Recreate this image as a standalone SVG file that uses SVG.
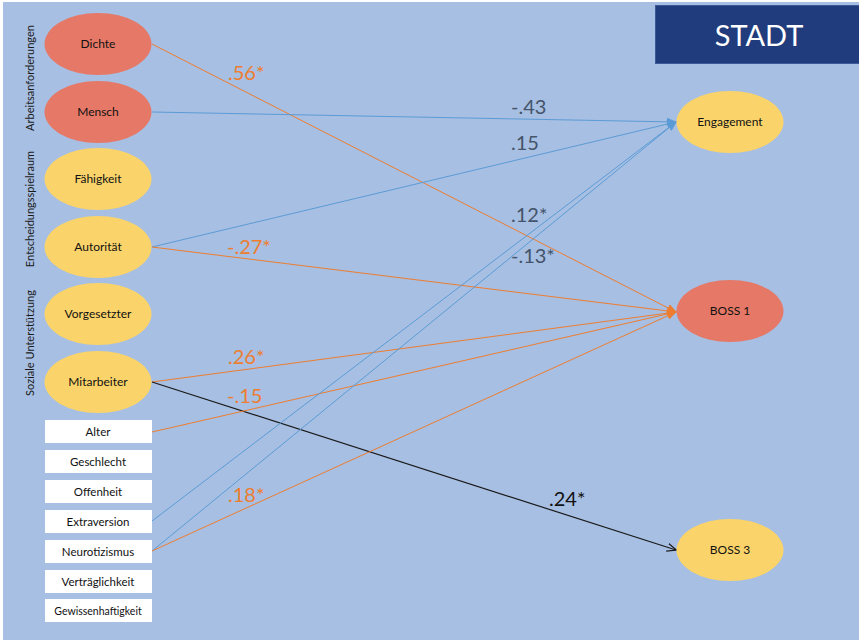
<svg xmlns="http://www.w3.org/2000/svg" width="859" height="640" viewBox="0 0 859 640">
<defs>
<style>
.bg{fill:#A7BFE2}
.red{fill:#E57866}
.yel{fill:#FAD46A}
.box{fill:#FFFFFF}
.lbl{font-family:Lato,"Liberation Sans",sans-serif;font-size:11.5px;fill:#111111;text-anchor:middle}
.el{font-size:12px}
.grp{font-family:Lato,"Liberation Sans",sans-serif;font-size:11px;fill:#1A1A1A;text-anchor:middle}
.num{font-family:Lato,"Liberation Sans",sans-serif;font-size:20px}
.o{fill:#ED7D31}
.g{fill:#44546A}
.k{fill:#111111}
.lb{stroke:#5B9BD5;stroke-width:1;fill:none;marker-end:url(#ab)}
.lo{stroke:#ED7D31;stroke-width:1;fill:none;marker-end:url(#ao)}
.lk{stroke:#1A1A1A;stroke-width:1.2;fill:none;marker-end:url(#ak)}
</style>
<marker id="ab" markerWidth="10" markerHeight="10" refX="9" refY="5" orient="auto" markerUnits="userSpaceOnUse" viewBox="0 0 10 10"><path d="M0,1 L10,5 L0,9 z" fill="#5B9BD5"/></marker>
<marker id="ao" markerWidth="10" markerHeight="10" refX="9" refY="5" orient="auto" markerUnits="userSpaceOnUse" viewBox="0 0 10 10"><path d="M0,1 L10,5 L0,9 z" fill="#ED7D31"/></marker>
<marker id="ak" markerWidth="10" markerHeight="10" refX="9" refY="5" orient="auto" markerUnits="userSpaceOnUse" viewBox="0 0 10 10"><path d="M0,1 L9.5,5 L0,9" fill="none" stroke="#1A1A1A" stroke-width="1.2"/></marker>
</defs>
<rect x="0" y="0" width="859" height="640" fill="#FFFFFF"/>
<rect x="3" y="2" width="856" height="638" class="bg"/>

<g id="stadt">
<rect x="655.5" y="5.5" width="210" height="58" fill="#203C7C" stroke="#3C5A96" stroke-width="1"/>
<text x="759" y="46" font-family="Lato,'Liberation Sans',sans-serif" font-size="29" fill="#FFFFFF" text-anchor="middle">STADT</text>
</g>

<g id="group-labels">
<text class="grp" transform="translate(34,78) rotate(-90)">Arbeitsanforderungen</text>
<text class="grp" transform="translate(34,209) rotate(-90)">Entscheidungsspielraum</text>
<text class="grp" transform="translate(34,343) rotate(-90)">Soziale Unterstützung</text>
</g>

<g id="connectors">
<line class="lo" x1="152" y1="44" x2="676" y2="312"/>
<line class="lb" x1="152" y1="112" x2="676" y2="122"/>
<line class="lb" x1="152" y1="247" x2="676" y2="122"/>
<line class="lo" x1="152" y1="247" x2="676" y2="312"/>
<line class="lo" x1="152" y1="382" x2="676" y2="312"/>
<line class="lk" x1="152" y1="382" x2="676" y2="550"/>
<line class="lo" x1="152" y1="432" x2="676" y2="312"/>
<line class="lb" x1="152" y1="521" x2="676" y2="122"/>
<line class="lb" x1="152" y1="551" x2="676" y2="122"/>
<line class="lo" x1="152" y1="551" x2="676" y2="312"/>
</g>

<g id="edge-labels">
<text class="num o" x="228" y="80">.56*</text>
<text class="num g" x="511" y="114">-.43</text>
<text class="num g" x="511" y="150">.15</text>
<text class="num g" x="511" y="222">.12*</text>
<text class="num g" x="511" y="263">-.13*</text>
<text class="num o" x="227" y="254">-.27*</text>
<text class="num o" x="228" y="364">.26*</text>
<text class="num o" x="227" y="403">-.15</text>
<text class="num o" x="228" y="502">.18*</text>
<text class="num k" x="549" y="506">.24*</text>
</g>

<g id="node-dichte"><ellipse class="red" cx="98" cy="44" rx="53.5" ry="31"/><text class="lbl el" x="98" y="48">Dichte</text></g>
<g id="node-mensch"><ellipse class="red" cx="98" cy="112" rx="53.5" ry="31"/><text class="lbl el" x="98" y="116">Mensch</text></g>
<g id="node-faehigkeit"><ellipse class="yel" cx="98" cy="179" rx="53.5" ry="31"/><text class="lbl el" x="98" y="183">Fähigkeit</text></g>
<g id="node-autoritaet"><ellipse class="yel" cx="98" cy="247" rx="53.5" ry="31"/><text class="lbl el" x="98" y="251">Autorität</text></g>
<g id="node-vorgesetzter"><ellipse class="yel" cx="98" cy="314" rx="53.5" ry="31"/><text class="lbl el" x="98" y="318">Vorgesetzter</text></g>
<g id="node-mitarbeiter"><ellipse class="yel" cx="98" cy="382" rx="53.5" ry="31"/><text class="lbl el" x="98" y="386">Mitarbeiter</text></g>

<g id="node-alter"><rect class="box" x="45" y="420" width="107" height="23"/><text class="lbl" x="98" y="436">Alter</text></g>
<g id="node-geschlecht"><rect class="box" x="45" y="450" width="107" height="23"/><text class="lbl" x="98" y="466">Geschlecht</text></g>
<g id="node-offenheit"><rect class="box" x="45" y="480" width="107" height="23"/><text class="lbl" x="98" y="496">Offenheit</text></g>
<g id="node-extraversion"><rect class="box" x="45" y="510" width="107" height="23"/><text class="lbl" x="98" y="526">Extraversion</text></g>
<g id="node-neurotizismus"><rect class="box" x="45" y="540" width="107" height="23"/><text class="lbl" x="98" y="556">Neurotizismus</text></g>
<g id="node-vertraeglichkeit"><rect class="box" x="45" y="570" width="107" height="23"/><text class="lbl" x="98" y="586">Verträglichkeit</text></g>
<g id="node-gewissenhaftigkeit"><rect class="box" x="45" y="599" width="107" height="23"/><text class="lbl" x="98" y="615" style="font-size:10.5px">Gewissenhaftigkeit</text></g>

<g id="node-engagement"><ellipse class="yel" cx="730" cy="122" rx="53.5" ry="31"/><text class="lbl el" x="730" y="126">Engagement</text></g>
<g id="node-boss1"><ellipse class="red" cx="730" cy="311" rx="53.5" ry="31"/><text class="lbl el" x="730" y="315">BOSS 1</text></g>
<g id="node-boss3"><ellipse class="yel" cx="730" cy="550" rx="53.5" ry="31"/><text class="lbl el" x="730" y="554">BOSS 3</text></g>
</svg>
